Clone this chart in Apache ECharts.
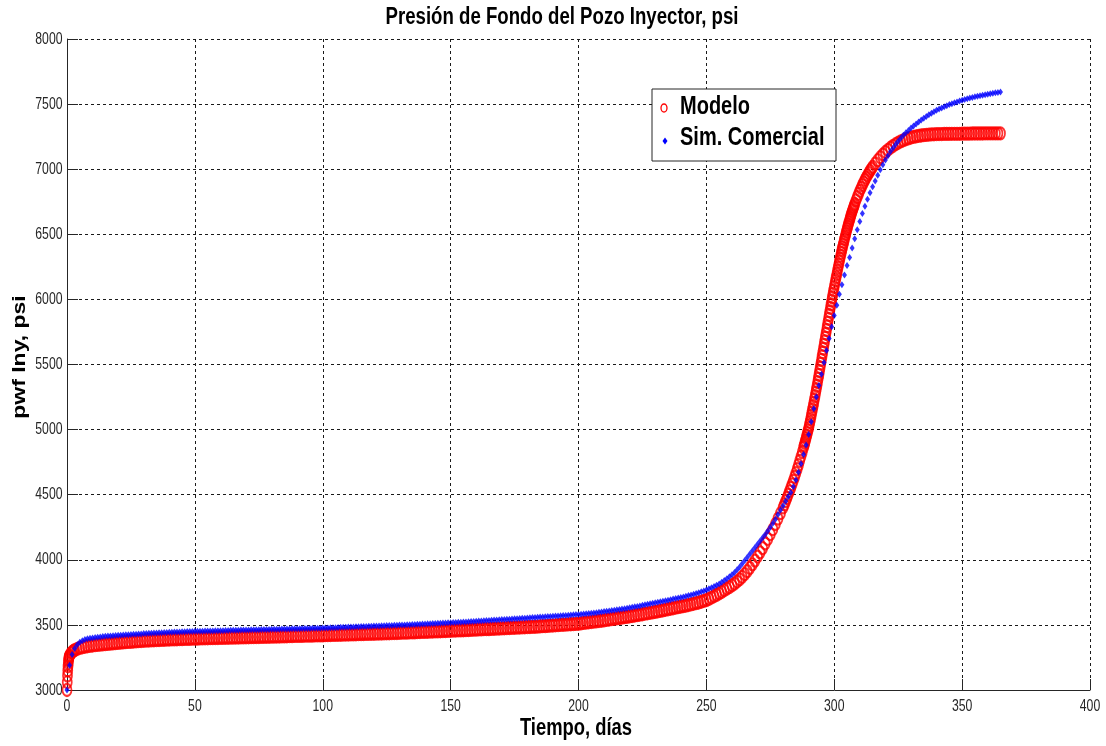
<!DOCTYPE html>
<html>
<head>
<meta charset="utf-8">
<script src="https://cdn.jsdelivr.net/npm/echarts@6/dist/echarts.min.js"></script>
<style>
  html, body { margin: 0; padding: 0; background: #ffffff; }
  #chart { width: 1106px; height: 746px; }
</style>
</head>
<body>
<div id="chart"></div>
<script>
// Tick values for both axes
const xTicks = [0, 50, 100, 150, 200, 250, 300, 350, 400];
const yTicks = [3000, 3500, 4000, 4500, 5000, 5500, 6000, 6500, 7000, 7500, 8000];

// Modelo: bottom-hole pressure (psi), one value per day from day 0 to day 365
const modeloDiario = [
  3000,3265,3292,3306,3316,3323,3328,3332,3336,3339,3342,
  3344,3346,3348,3350,3352,3354,3356,3358,3360,3362,
  3364,3366,3367,3369,3370,3372,3373,3375,3376,3378,
  3379,3380,3381,3382,3383,3384,3385,3386,3387,3388,
  3389,3389,3390,3391,3391,3392,3393,3393,3394,3395,
  3395,3396,3396,3397,3397,3398,3398,3399,3399,3400,
  3400,3401,3401,3402,3402,3403,3403,3404,3404,3405,
  3405,3406,3406,3407,3407,3408,3408,3409,3409,3410,
  3410,3411,3411,3412,3412,3413,3414,3414,3415,3415,
  3416,3416,3417,3417,3418,3418,3419,3419,3420,3420,
  3421,3421,3422,3423,3423,3424,3424,3425,3426,3426,
  3427,3427,3428,3429,3429,3430,3431,3431,3432,3432,
  3433,3434,3434,3435,3436,3436,3437,3438,3438,3439,
  3440,3440,3441,3442,3443,3443,3444,3445,3446,3446,
  3447,3448,3449,3450,3450,3451,3452,3453,3454,3455,
  3456,3457,3458,3458,3459,3460,3461,3462,3463,3464,
  3465,3466,3467,3467,3468,3469,3470,3471,3472,3473,
  3474,3475,3476,3477,3478,3479,3480,3481,3482,3483,
  3484,3485,3486,3487,3488,3490,3491,3492,3494,3495,
  3497,3498,3500,3501,3502,3504,3505,3506,3508,3509,
  3512,3515,3517,3520,3522,3525,3527,3530,3532,3535,
  3538,3541,3544,3547,3550,3553,3556,3559,3562,3565,
  3568,3572,3575,3579,3582,3586,3589,3593,3596,3600,
  3604,3608,3612,3616,3620,3624,3628,3632,3636,3640,
  3644,3648,3653,3657,3662,3667,3672,3678,3684,3690,
  3700,3710,3720,3731,3742,3754,3766,3778,3790,3803,
  3817,3833,3850,3869,3890,3913,3938,3965,3994,4025,
  4057,4090,4125,4160,4197,4235,4275,4316,4358,4402,
  4450,4500,4552,4607,4665,4727,4793,4862,4935,5012,
  5105,5205,5310,5420,5535,5650,5765,5880,5990,6095,
  6195,6290,6380,6462,6540,6610,6675,6733,6786,6834,
  6878,6918,6954,6987,7017,7044,7069,7092,7113,7132,
  7149,7165,7179,7192,7203,7213,7222,7230,7237,7243,
  7248,7252,7256,7259,7262,7264,7266,7267,7268,7269,
  7270,7270,7271,7271,7271,7272,7272,7272,7272,7273,
  7273,7273,7273,7274,7274,7274,7274,7274,7275,7275,
  7275,7275,7275,7275,7275
];

// Modelo: extra report times (shorter time steps at start-up and during the pressure build-up)
const modeloDiasExtra = [
  0.1, 0.2, 0.3, 0.4, 0.5, 0.6, 0.7, 0.8, 0.9, 1.5, 2.5,
  280.5, 281.5, 282.5, 283.5, 284.5, 285.5, 286.5, 287.5, 288.5, 289.5,
  290.5, 291.5, 292.5, 293.5, 294.5, 295.5, 296.5, 297.5, 298.5, 299.5,
  300.5, 301.5, 302.5, 303.5, 304.5, 305.5, 306.5, 307.5, 308.5, 309.5,
  310.5, 311.5, 312.5, 313.5, 314.5,
  288.25, 288.75, 289.25, 289.75, 290.25, 290.75, 291.25, 291.75, 292.25, 292.75,
  293.25, 293.75, 294.25, 294.75, 295.25, 295.75, 296.25, 296.75, 297.25, 297.75,
  298.25, 298.75, 299.25, 299.75, 300.25, 300.75, 301.25, 301.75, 302.25, 302.75,
  303.25, 303.75, 304.25, 304.75, 305.25, 305.75, 306.25, 306.75, 307.25, 307.75
];
const modeloPwfExtra = [
  3060, 3110, 3150, 3182, 3207, 3226, 3240, 3251, 3259, 3281, 3300,
  4425, 4475, 4526, 4579, 4636, 4696, 4760, 4827, 4898, 4973,
  5058, 5155, 5257, 5365, 5477, 5592, 5707, 5822, 5935, 6043,
  6145, 6243, 6335, 6421, 6501, 6575, 6643, 6704, 6760, 6810,
  6856, 6898, 6936, 6971, 7002,
  4880, 4916, 4954, 4992, 5035, 5081, 5130, 5180, 5231, 5283,
  5337, 5392, 5448, 5506, 5563, 5621, 5678, 5736, 5793, 5851,
  5907, 5962, 6016, 6069, 6120, 6170, 6219, 6266, 6312, 6357,
  6400, 6441, 6481, 6520, 6557, 6592, 6626, 6659, 6689, 6718
];

// Sim. Comercial: bottom-hole pressure (psi), one value per day from day 0 to day 365
const comercialDiario = [
  3000,3190,3272,3318,3348,3367,3379,3387,3393,3397,3400,
  3403,3406,3408,3410,3412,3414,3415,3417,3418,3420,
  3421,3423,3424,3425,3426,3428,3429,3430,3431,3433,
  3434,3435,3436,3437,3438,3439,3440,3441,3442,3443,
  3444,3445,3446,3446,3447,3448,3449,3449,3450,3451,
  3451,3452,3452,3453,3453,3454,3454,3455,3455,3456,
  3456,3457,3457,3458,3458,3459,3459,3460,3460,3461,
  3461,3462,3462,3463,3463,3464,3464,3465,3465,3466,
  3466,3467,3467,3468,3468,3469,3469,3470,3470,3471,
  3471,3472,3472,3473,3473,3474,3474,3475,3475,3476,
  3476,3477,3478,3478,3479,3480,3481,3481,3482,3483,
  3484,3484,3485,3486,3487,3487,3488,3489,3490,3491,
  3491,3492,3493,3494,3495,3495,3496,3497,3498,3499,
  3500,3500,3501,3502,3503,3504,3505,3505,3506,3507,
  3508,3509,3510,3511,3512,3513,3514,3515,3516,3517,
  3518,3519,3520,3521,3522,3523,3524,3526,3527,3528,
  3529,3530,3532,3533,3534,3535,3537,3538,3539,3541,
  3542,3543,3544,3546,3547,3548,3549,3551,3552,3553,
  3554,3556,3557,3558,3560,3561,3562,3564,3565,3566,
  3568,3569,3570,3572,3573,3575,3576,3577,3579,3580,
  3582,3584,3586,3588,3590,3592,3594,3597,3599,3602,
  3604,3607,3610,3613,3616,3619,3622,3625,3628,3632,
  3635,3639,3642,3646,3650,3654,3658,3662,3666,3670,
  3674,3678,3682,3686,3690,3694,3698,3702,3706,3711,
  3715,3720,3725,3730,3735,3741,3747,3754,3761,3768,
  3777,3786,3795,3805,3815,3828,3841,3855,3869,3885,
  3903,3923,3945,3970,3995,4020,4045,4070,4095,4120,
  4145,4170,4195,4222,4250,4280,4312,4347,4382,4416,
  4450,4484,4517,4562,4612,4672,4738,4808,4882,4962,
  5060,5160,5250,5338,5425,5515,5608,5700,5790,5876,
  5955,6040,6112,6188,6260,6322,6395,6465,6535,6598,
  6660,6715,6770,6820,6865,6910,6953,6995,7035,7070,
  7103,7135,7163,7190,7215,7238,7260,7280,7298,7316,
  7332,7348,7363,7378,7392,7405,7418,7430,7441,7452,
  7462,7471,7480,7488,7496,7503,7510,7517,7523,7530,
  7536,7541,7546,7551,7556,7560,7564,7568,7572,7576,
  7580,7583,7587,7590,7593
];

const modeloData = modeloDiario.map((v, d) => [d, v])
  .concat(modeloDiasExtra.map((d, k) => [d, modeloPwfExtra[k]]))
  .sort((a, b) => a[0] - b[0]);
const comercialData = comercialDiario.map((v, d) => [d, v]);

const FONT = '"Liberation Sans", Arial, Helvetica, sans-serif';
const INK = '#262626';

const chart = echarts.init(document.getElementById('chart'), null, { renderer: 'canvas' });

const axisCommon = {
  type: 'value',
  axisLine: { show: true, onZero: false, lineStyle: { color: INK, width: 1 } },
  axisTick: { show: true, inside: true, length: 11, lineStyle: { color: INK, width: 1 } },
  axisLabel: { show: false },
  splitLine: { show: true, lineStyle: { color: '#1a1a1a', width: 1, type: [3, 3] } }
};

chart.setOption({
  animation: false,
  backgroundColor: '#ffffff',
  grid: { left: 67, right: 16, top: 39, bottom: 56, containLabel: false },
  xAxis: Object.assign({}, axisCommon, { min: xTicks[0], max: xTicks[xTicks.length - 1], interval: 50 }),
  yAxis: Object.assign({}, axisCommon, { min: yTicks[0], max: yTicks[yTicks.length - 1], interval: 500 }),
  series: [
    {
      name: 'Modelo',
      type: 'scatter',
      data: modeloData,
      symbol: 'circle',
      symbolSize: [9, 12],
      itemStyle: { color: 'rgba(255,0,0,0)', borderColor: '#ff0000', borderWidth: 2 },
      emphasis: { disabled: true },
      z: 2
    },
    {
      name: 'Sim. Comercial',
      type: 'scatter',
      data: comercialData,
      symbol: 'diamond',
      symbolSize: [5, 7],
      itemStyle: { color: '#0000ff' },
      emphasis: { disabled: true },
      z: 3
    }
  ]
});

// Text: titles, tick labels and legend, drawn slightly condensed
const graphics = [];

xTicks.forEach(v => {
  const px = chart.convertToPixel({ xAxisIndex: 0 }, v);
  graphics.push({
    type: 'text', x: px, y: 706, scaleX: 0.72, silent: true,
    style: { text: String(v), font: '17px ' + FONT, fill: INK, align: 'center', verticalAlign: 'middle' }
  });
});
yTicks.forEach(v => {
  const py = chart.convertToPixel({ yAxisIndex: 0 }, v);
  graphics.push({
    type: 'text', x: 62.5, y: py, scaleX: 0.72, silent: true,
    style: { text: String(v), font: '17px ' + FONT, fill: INK, align: 'right', verticalAlign: 'middle' }
  });
});

graphics.push({
  type: 'text', x: 562, y: 18, scaleX: 0.81, silent: true,
  style: { text: 'Presión de Fondo del Pozo Inyector, psi', font: 'bold 23px ' + FONT, fill: '#000', align: 'center', verticalAlign: 'middle' }
});
graphics.push({
  type: 'text', x: 576, y: 729, scaleX: 0.8, silent: true,
  style: { text: 'Tiempo, días', font: 'bold 23px ' + FONT, fill: '#000', align: 'center', verticalAlign: 'middle' }
});
graphics.push({
  type: 'text', x: 20, y: 357, rotation: Math.PI / 2, scaleY: 0.8, silent: true,
  style: { text: 'pwf Iny, psi', font: 'bold 23px ' + FONT, fill: '#000', align: 'center', verticalAlign: 'middle' }
});

// Legend box
graphics.push({
  type: 'rect', silent: true, z: 10,
  shape: { x: 652, y: 89, width: 184, height: 72 },
  style: { fill: '#ffffff', stroke: INK, lineWidth: 1 }
});
graphics.push({
  type: 'ellipse', silent: true, z: 11,
  shape: { cx: 664, cy: 108, rx: 3, ry: 4 },
  style: { fill: 'none', stroke: '#ff0000', lineWidth: 1.3 }
});
graphics.push({
  type: 'polygon', silent: true, z: 11,
  shape: { points: [[665, 137.5], [667.5, 141], [665, 144.5], [662.5, 141]] },
  style: { fill: '#0000ff' }
});
graphics.push({
  type: 'text', x: 680, y: 107, scaleX: 0.8, silent: true, z: 11,
  style: { text: 'Modelo', font: 'bold 25px ' + FONT, fill: '#000', align: 'left', verticalAlign: 'middle' }
});
graphics.push({
  type: 'text', x: 680, y: 138, scaleX: 0.8, silent: true, z: 11,
  style: { text: 'Sim. Comercial', font: 'bold 25px ' + FONT, fill: '#000', align: 'left', verticalAlign: 'middle' }
});

chart.setOption({ graphic: graphics });
</script>
</body>
</html>
